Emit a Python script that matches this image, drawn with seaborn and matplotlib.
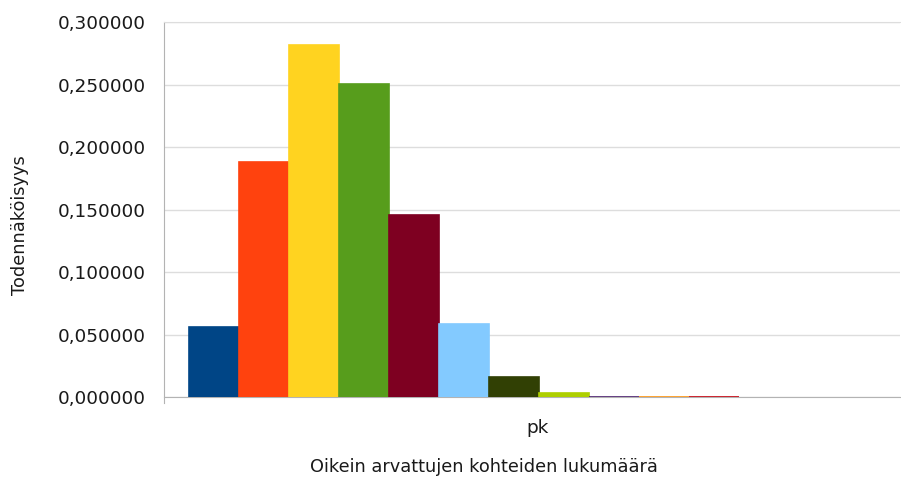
import matplotlib
matplotlib.use("Agg")
import matplotlib.pyplot as plt
import seaborn as sns
import pandas as pd
from matplotlib.ticker import FuncFormatter

# Probability of each count of correct guesses (0..10)
counts = [0, 1, 2, 3, 4, 5, 6, 7, 8, 9, 10]
probabilities = [0.0563, 0.1877, 0.2816, 0.2503, 0.1460, 0.0584,
                 0.0162, 0.0031, 0.0004, 0.00003, 0.000001]
category = "pk"
colors = ["#004586", "#ff420e", "#ffd320", "#579d1c", "#7e0021", "#83caff",
          "#314004", "#aecf00", "#4b1f6f", "#ff950e", "#c5000b"]
y_ticks = [0.0, 0.05, 0.10, 0.15, 0.20, 0.25, 0.30]

df = pd.DataFrame({"kategoria": [category] * len(counts),
                   "k": counts,
                   "p": probabilities})

sns.set_style("white")
plt.rcParams["font.family"] = ["DejaVu Sans"]

W, H = 901, 479
fig = plt.figure(figsize=(W / 100, H / 100), dpi=100)
left, right, top, bottom = 164, 900, 22, 397
ax = fig.add_axes([left / W, 1 - bottom / H, (right - left) / W, (bottom - top) / H])

sns.barplot(data=df, x="kategoria", y="p", hue="k", palette=colors,
            dodge=True, width=0.8, gap=0, legend=False, ax=ax,
            saturation=1, linewidth=1.2, zorder=3)
for patch, c in zip(ax.patches, colors):
    patch.set_edgecolor(c)

# bars span -0.4..0.4 in data units; place them inside the plot frame
px_per_unit = 550 / 0.8
x0 = -0.4 - 25 / px_per_unit
x1 = x0 + (right - left) / px_per_unit
ax.set_xlim(x0, x1)
ax.set_xticks([x0 + (538 - left) / px_per_unit])
ax.set_xticklabels([category])
ax.set_ylim(0, 0.3)
ax.set_yticks(y_ticks)
ax.yaxis.set_major_formatter(FuncFormatter(lambda v, _: f"{v:.6f}".replace(".", ",")))

grid_c = "#dddddd"
axis_c = "#b3b3b3"
ax.grid(axis="y", color=grid_c, linewidth=1, zorder=0)
ax.set_axisbelow(True)
ax.spines["right"].set_visible(False)
ax.spines["top"].set_color(grid_c)
ax.spines["left"].set_color(axis_c)
ax.spines["left"].set_bounds(-0.005, 0.3)
ax.spines["bottom"].set_color(axis_c)
ax.tick_params(axis="y", length=7, color=axis_c, labelsize=13.3, pad=6, labelcolor="#1a1a1a")
ax.tick_params(axis="x", length=0, labelsize=13.3, pad=16, labelcolor="#1a1a1a")
ax.set_xlabel("")
ax.set_ylabel("")

fig.text(20 / W, 1 - 225 / H, "Todennäköisyys", rotation=90, ha="center", va="center",
         fontsize=12.8, color="#1a1a1a")
fig.text(484 / W, 1 - 467 / H, "Oikein arvattujen kohteiden lukumäärä", ha="center",
         va="center", fontsize=12.8, color="#1a1a1a")

fig.savefig("out.png", dpi=100)
